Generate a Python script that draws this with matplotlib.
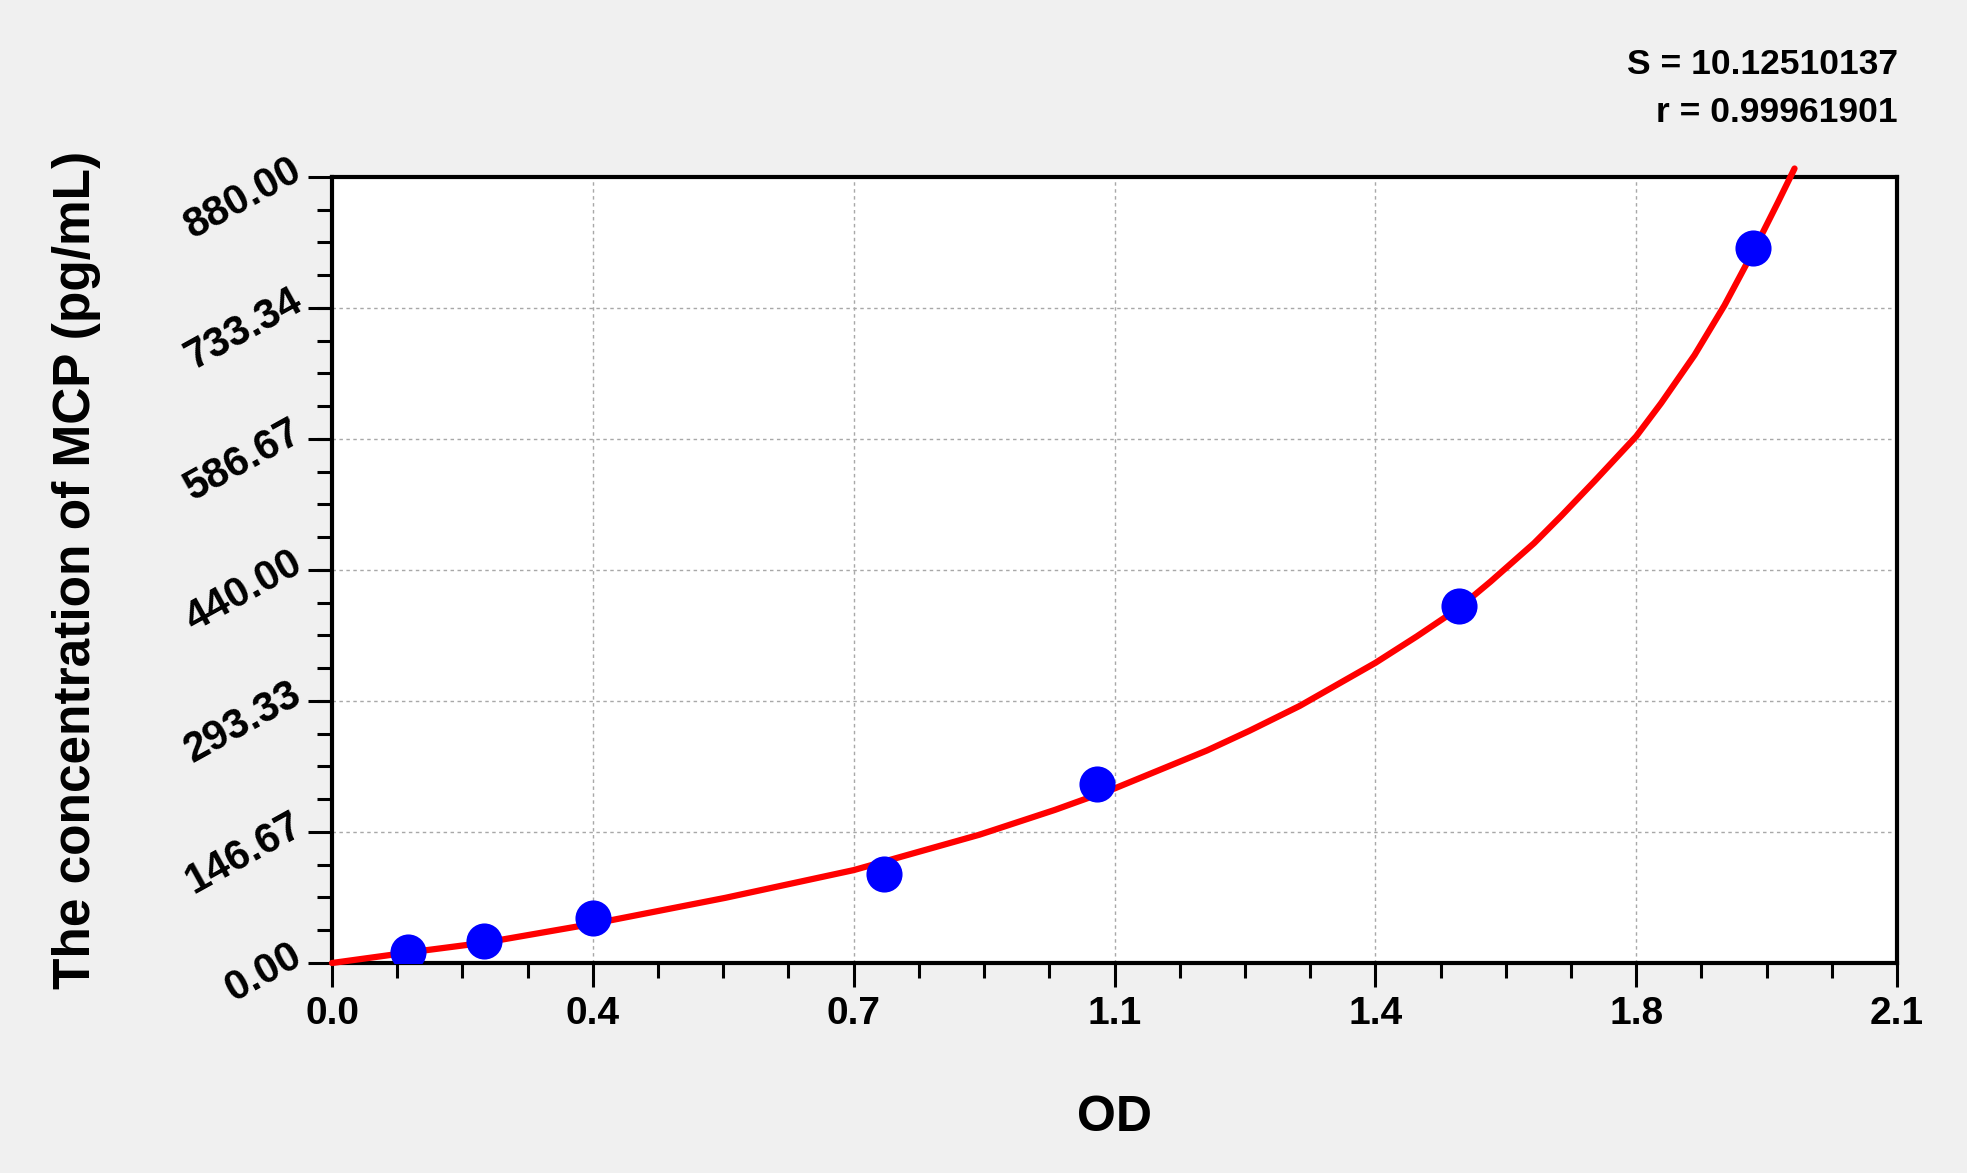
import matplotlib
matplotlib.use("Agg")
import matplotlib.pyplot as plt
from matplotlib.ticker import FixedLocator, AutoMinorLocator

plt.rcParams['font.family'] = ['Liberation Sans', 'DejaVu Sans']
plt.rcParams['font.weight'] = 'bold'

# Standard points
od_points = [0.102, 0.204, 0.350, 0.741, 1.027, 1.512, 1.907]
conc_points = [12.5, 25, 50, 100, 200, 400, 800]

# Fitted curve
curve_od = [0.0, 0.102, 0.204, 0.350, 0.528, 0.700, 0.869, 0.970, 1.050,
            1.174, 1.2311, 1.2985, 1.400, 1.4557, 1.5119, 1.5546, 1.613,
            1.6494, 1.6941, 1.750, 1.7835, 1.8283, 1.8685, 1.9088, 1.9401,
            1.9625]
curve_conc = [0.0, 11.7, 22.7, 43.9, 73.0, 104.0, 143.7, 171.4, 195.4,
              237.9, 260.0, 287.8, 336.0, 365.7, 397.3, 427.0, 470.0,
              500.5, 539.5, 589.6, 626.8, 680.6, 736.3, 799.4, 851.4,
              889.5]

x_ticks = [0.0, 0.35, 0.70, 1.05, 1.40, 1.75, 2.10]
x_tick_labels = ['0.0', '0.4', '0.7', '1.1', '1.4', '1.8', '2.1']
y_ticks = [0.0, 146.67, 293.33, 440.0, 586.67, 733.34, 880.0]
y_tick_labels = ['0.00', '146.67', '293.33', '440.00', '586.67', '733.34', '880.00']

stat_lines = ['S = 10.12510137', 'r = 0.99961901']

W, H = 1967, 1173
fig = plt.figure(figsize=(W / 100, H / 100), dpi=100, facecolor='#F0F0F0')
ax = fig.add_axes([332 / W, 1 - 963 / H, (1897 - 332) / W, (963 - 177) / H])
ax.set_facecolor('white')

ax.set_xlim(0, 2.1)
ax.set_ylim(0, 880)

ax.grid(True, which='major', color='#A8A8A8', linestyle=(0, (2.5, 2.5)), linewidth=1.0)
ax.set_axisbelow(True)

ax.plot(curve_od, curve_conc, color='#FF0000', linewidth=4.5, clip_on=False,
        zorder=3, solid_capstyle='round', solid_joinstyle='round')
ax.plot(od_points, conc_points, 'o', color='#0000FF', markersize=26,
        markeredgewidth=0, zorder=4)

ax.xaxis.set_major_locator(FixedLocator(x_ticks))
ax.set_xticklabels(x_tick_labels)
ax.yaxis.set_major_locator(FixedLocator(y_ticks))
ax.set_yticklabels(y_tick_labels)
ax.xaxis.set_minor_locator(AutoMinorLocator(4))
ax.yaxis.set_minor_locator(AutoMinorLocator(4))

ax.tick_params(axis='both', which='major', direction='out', length=17, width=2.2,
               color='black')
ax.tick_params(axis='both', which='minor', direction='out', length=11, width=2.2,
               color='black')
ax.tick_params(axis='x', which='major', labelsize=28, pad=7)
ax.tick_params(axis='y', which='major', labelsize=30, pad=3)
for lab in ax.get_yticklabels():
    lab.set_rotation(29)
    lab.set_rotation_mode('anchor')
    lab.set_ha('right')
    lab.set_va('baseline')
    lab.set_fontweight('bold')
for lab in ax.get_xticklabels():
    lab.set_fontweight('bold')

for sp in ax.spines.values():
    sp.set_linewidth(3)
    sp.set_color('black')

fig.text(1114 / W, 1 - 1118 / H, 'OD', ha='center', va='center',
         fontsize=36, fontweight='bold')
fig.text(77 / W, 1 - 570 / H, 'The concentration of MCP (pg/mL)', ha='center',
         va='center', rotation=90, fontsize=37, fontweight='bold')

fig.text(1898 / W, 1 - 64 / H, stat_lines[0], ha='right', va='center',
         fontsize=25.5, fontweight='bold')
fig.text(1898 / W, 1 - 113 / H, stat_lines[1], ha='right', va='center',
         fontsize=25.5, fontweight='bold')

fig.savefig('out.png', dpi=100, facecolor=fig.get_facecolor())
